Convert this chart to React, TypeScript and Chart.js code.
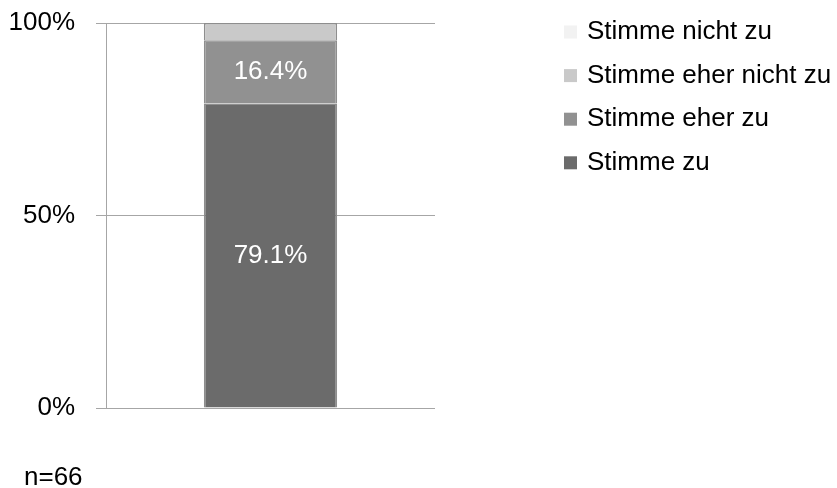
import React, { useEffect, useRef } from "react";
import { Chart, registerables } from "chart.js";

Chart.register(...registerables);

// Survey answers for a single question, stacked to 100 %
const categories = [""];
const seriesLabels = ["Stimme zu", "Stimme eher zu", "Stimme eher nicht zu", "Stimme nicht zu"];
const stimmeZu = [79.1];
const stimmeEherZu = [16.4];
const stimmeEherNichtZu = [4.5];
const stimmeNichtZu = [0];
const yTicks = [0, 50, 100];
const sampleNote = "n=66";

const seriesColors = ["#6b6b6b", "#919191", "#c9c9c9", "#f2f2f2"];
const FONT = "Arial, 'Liberation Sans', sans-serif";

// Writes the percentage inside segments large enough to hold it
const segmentLabels = {
  id: "segmentLabels",
  afterDatasetsDraw(chart: any) {
    const ctx = chart.ctx;
    ctx.save();
    ctx.font = `26px ${FONT}`;
    ctx.fillStyle = "#ffffff";
    ctx.textAlign = "center";
    ctx.textBaseline = "middle";
    chart.data.datasets.forEach((ds: any, i: number) => {
      const meta = chart.getDatasetMeta(i);
      meta.data.forEach((bar: any, j: number) => {
        const v = ds.data[j];
        if (v < 10) return;
        const p = bar.getProps(["x", "y", "base"], true);
        ctx.fillText(v.toFixed(1) + "%", p.x, (p.y + p.base) / 2);
      });
    });
    ctx.restore();
  },
};

// Legend listed top to bottom in reverse stacking order, plus the sample size note
const sideLegend = {
  id: "sideLegend",
  afterDraw(chart: any) {
    const ctx = chart.ctx;
    const ds = chart.data.datasets.slice().reverse();
    ctx.save();
    ctx.font = `26px ${FONT}`;
    ctx.textBaseline = "middle";
    ctx.textAlign = "left";
    const x0 = 564;
    const y0 = 32;
    const step = 43.6;
    ds.forEach((d: any, i: number) => {
      const y = y0 + i * step;
      ctx.fillStyle = d.backgroundColor;
      ctx.fillRect(x0, y - 6.5, 13, 13);
      ctx.fillStyle = "#000000";
      ctx.fillText(d.label, x0 + 23, y);
    });
    ctx.textBaseline = "alphabetic";
    ctx.fillText(sampleNote, 24, 485);
    ctx.restore();
  },
};

export default function App() {
  const ref = useRef<HTMLCanvasElement | null>(null);

  useEffect(() => {
    if (!ref.current) return;
    const values = [stimmeZu, stimmeEherZu, stimmeEherNichtZu, stimmeNichtZu];
    const chart = new Chart(ref.current, {
      type: "bar",
      data: {
        labels: categories,
        datasets: values.map((data, i) => ({
          label: seriesLabels[i],
          data,
          backgroundColor: seriesColors[i],
          borderColor: "#8e8e8e",
          borderWidth: 1.5,
          categoryPercentage: 1,
          barPercentage: 0.405,
        })),
      },
      options: {
        responsive: false,
        animation: false,
        events: [],
        layout: { padding: { left: 0, top: 23, right: 402, bottom: 80 } },
        plugins: { legend: { display: false }, tooltip: { enabled: false } },
        scales: {
          x: { stacked: true, display: false },
          y: {
            stacked: true,
            min: 0,
            max: 100,
            afterBuildTicks(axis: any) {
              axis.ticks = yTicks.map((v) => ({ value: v }));
            },
            afterFit(axis: any) {
              axis.width = 106;
              axis.paddingTop = 0;
              axis.paddingBottom = 0;
            },
            border: { display: true, color: "#a6a6a6", width: 1 },
            grid: {
              color: "#a6a6a6",
              lineWidth: 1,
              drawTicks: true,
              tickLength: 10,
            },
            ticks: {
              padding: 21,
              color: "#000000",
              font: { family: FONT, size: 26 },
              callback: (v: any) => v + "%",
            },
          },
        },
      },
      plugins: [segmentLabels, sideLegend],
    });
    return () => chart.destroy();
  }, []);

  return (
    <div style={{ position: "fixed", left: 0, top: 0, width: 837, height: 488, background: "#ffffff" }}>
      <canvas ref={ref} width={837} height={488} />
    </div>
  );
}
